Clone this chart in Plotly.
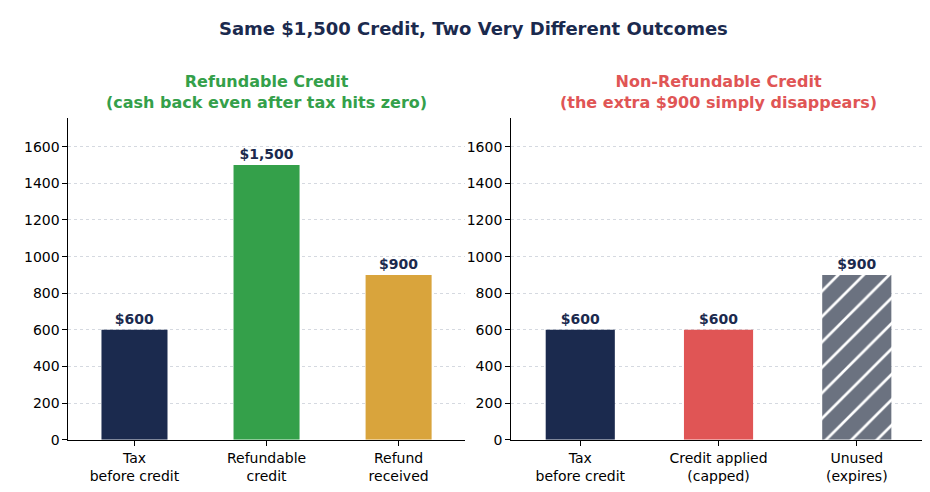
import plotly.graph_objects as go

left_cats = ["Tax<br>before credit", "Refundable<br>credit", "Refund<br>received"]
left_vals = [600, 1500, 900]
left_colors = ["#1b2a4e", "#34a04a", "#d9a43c"]

right_cats = ["Tax<br>before credit", "Credit applied<br>(capped)", "Unused<br>(expires)"]
right_vals = [600, 600, 900]
right_colors = ["#1b2a4e", "#e05555", "#6b7280"]

navy = "#1b2a4e"
font = "DejaVu Sans"

fig = go.Figure()
fig.add_trace(go.Bar(
    x=left_cats, y=left_vals, width=0.5, marker_color=left_colors, marker_line_width=0,
    text=["${:,}".format(v) for v in left_vals], textposition="outside",
    textfont=dict(family=font, size=14, color=navy, weight="bold"),
    cliponaxis=False, xaxis="x", yaxis="y", showlegend=False))
fig.add_trace(go.Bar(
    x=right_cats, y=right_vals, width=0.5, marker_line_width=0,
    marker=dict(color=right_colors,
                pattern=dict(shape=["", "", "/"], fgcolor="white", size=18, solidity=0.15,
                             fgopacity=1)),
    text=["${:,}".format(v) for v in right_vals], textposition="outside",
    textfont=dict(family=font, size=14, color=navy, weight="bold"),
    cliponaxis=False, xaxis="x2", yaxis="y2", showlegend=False))

xax = dict(showline=True, linecolor="black", linewidth=1, ticks="outside", tickcolor="black",
           showgrid=False, tickfont=dict(family=font, size=14, color="black"))
yax = dict(showline=True, linecolor="black", linewidth=1, ticks="outside", tickcolor="black",
           range=[0, 1755], dtick=200, showgrid=True, gridcolor="#d5d9e0", griddash="dot",
           gridwidth=1, zeroline=False, tickfont=dict(family=font, size=14, color="black"))

fig.update_layout(
    width=930, height=492, margin=dict(l=0, r=0, t=0, b=0),
    plot_bgcolor="white", paper_bgcolor="white",
    xaxis=dict(xax, domain=[0.065, 0.491], anchor="y"),
    yaxis=dict(yax, domain=[0.108, 0.772], anchor="x"),
    xaxis2=dict(xax, domain=[0.541, 0.987], anchor="y2"),
    yaxis2=dict(yax, domain=[0.108, 0.772], anchor="x2"),
    annotations=[
        dict(text="<b>Same $1,500 Credit, Two Very Different Outcomes</b>", x=0.5, y=1 - 8 / 492,
             xref="paper", yref="paper", showarrow=False, xanchor="center", yanchor="top",
             font=dict(family=font, size=18, color=navy)),
        dict(text="<b>Refundable Credit<br>(cash back even after tax hits zero)</b>",
             x=0.278, y=1 - 108 / 492, xref="paper", yref="paper", showarrow=False,
             xanchor="center", yanchor="bottom", font=dict(family=font, size=16, color="#34a04a")),
        dict(text="<b>Non-Refundable Credit<br>(the extra $900 simply disappears)</b>",
             x=0.764, y=1 - 108 / 492, xref="paper", yref="paper", showarrow=False,
             xanchor="center", yanchor="bottom", font=dict(family=font, size=16, color="#e05555")),
    ],
)

fig.write_html("out.html")
